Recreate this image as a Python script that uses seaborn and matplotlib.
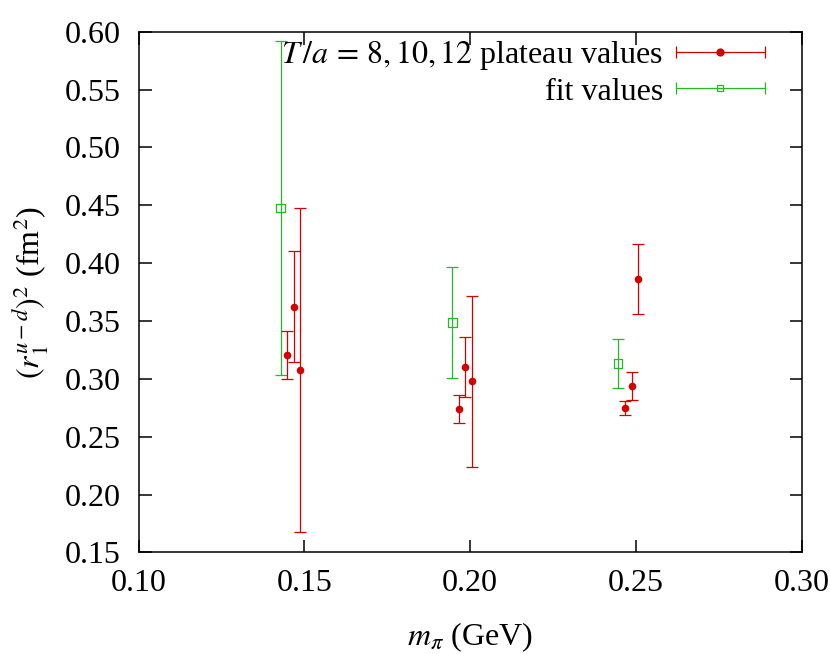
import matplotlib
matplotlib.use("Agg")
import matplotlib.pyplot as plt
import seaborn as sns
import pandas as pd
from matplotlib.lines import Line2D
from matplotlib.legend_handler import HandlerLine2D, HandlerTuple

# plateau values (T/a = 8, 10, 12) per pion mass
plateau_x = [0.1449, 0.1468, 0.1488, 0.1966, 0.1986, 0.2006, 0.2468, 0.2488, 0.2508]
plateau_y = [0.3206, 0.3624, 0.3073, 0.2741, 0.3102, 0.2978, 0.2750, 0.2938, 0.3863]
plateau_err = [0.021, 0.048, 0.140, 0.012, 0.026, 0.074, 0.006, 0.012, 0.030]

# fit values
fit_x = [0.1429, 0.1947, 0.2447]
fit_y = [0.4475, 0.3489, 0.3134]
fit_err = [0.1445, 0.048, 0.021]

x_ticks = [0.10, 0.15, 0.20, 0.25, 0.30]
y_ticks = [0.15, 0.20, 0.25, 0.30, 0.35, 0.40, 0.45, 0.50, 0.55, 0.60]

red = "#d40000"
green = "#22bb22"
fs = 23

sns.set_theme(style="ticks")
plt.rcParams["font.family"] = ["Liberation Serif", "DejaVu Serif"]
plt.rcParams["mathtext.fontset"] = "stix"
plt.rcParams["font.size"] = fs
plt.rcParams["axes.linewidth"] = 1.1
for key in ["text.color", "axes.labelcolor", "xtick.color", "ytick.color", "axes.edgecolor"]:
    plt.rcParams[key] = "black"

df_plat = pd.DataFrame({"m": plateau_x, "r2": plateau_y, "err": plateau_err})
df_fit = pd.DataFrame({"m": fit_x, "r2": fit_y, "err": fit_err})

fig = plt.figure(figsize=(8.3, 6.54), dpi=100)
ax = fig.add_axes([0.1669, 0.1552, 0.7988, 0.7963])

ax.errorbar(df_fit["m"], df_fit["r2"], yerr=df_fit["err"], fmt="none",
            ecolor=green, elinewidth=0.9, capsize=4, capthick=0.9)
ax.errorbar(df_plat["m"], df_plat["r2"], yerr=df_plat["err"], fmt="none",
            ecolor=red, elinewidth=0.9, capsize=4, capthick=0.9)
sns.scatterplot(data=df_fit, x="m", y="r2", ax=ax, marker="s", s=38,
                facecolor="none", edgecolor=green, linewidth=0.9, zorder=3)
sns.scatterplot(data=df_plat, x="m", y="r2", ax=ax, marker="o", s=30,
                color=red, edgecolor=red, linewidth=0, zorder=4)

ax.set_xlim(0.10, 0.30)
ax.set_ylim(0.15, 0.60)
ax.set_xticks(x_ticks)
ax.set_yticks(y_ticks)
ax.set_xticklabels([f"{v:.2f}" for v in x_ticks])
ax.set_yticklabels([f"{v:.2f}" for v in y_ticks])
ax.tick_params(direction="in", length=9, width=1.1, top=True, right=True,
               labelsize=fs, colors="black")
ax.tick_params(axis="y", pad=13)
ax.tick_params(axis="x", pad=12)
for s in ax.spines.values():
    s.set_visible(True)
    s.set_color("black")

ax.set_xlabel(r"$m_\pi$ (GeV)", fontsize=fs, labelpad=16)
ax.set_ylabel(r"$(r_1^{u-d})^2$ (fm$^2$)", fontsize=fs, labelpad=10)

# gnuplot-like legend samples: horizontal bar with caps and a centre marker
def make_handle(color, marker, face):
    bar = Line2D([], [], color=color, lw=0.9)
    caps = Line2D([], [], color=color, lw=0, marker="|", markersize=9, markeredgewidth=0.9)
    mk = Line2D([], [], color=color, lw=0, marker=marker, markersize=5,
                markerfacecolor=face, markeredgecolor=color, markeredgewidth=0.9)
    return (bar, caps, mk), caps

h1, c1 = make_handle(red, "o", red)
h2, c2 = make_handle(green, "s", "none")
leg = ax.legend([h1, h2], [r"$T\,/a\,=\,8, 10, 12$ plateau values", "fit values"],
                handler_map={tuple: HandlerTuple(ndivide=1, pad=0),
                             c1: HandlerLine2D(numpoints=2, marker_pad=0),
                             c2: HandlerLine2D(numpoints=2, marker_pad=0)},
                loc="upper right", bbox_to_anchor=(0.945, 0.987), frameon=False,
                borderpad=0, borderaxespad=0,
                markerfirst=False, handlelength=2.8, handletextpad=0.4,
                labelspacing=0.15, fontsize=fs)

fig.savefig("out.png", dpi=100)
